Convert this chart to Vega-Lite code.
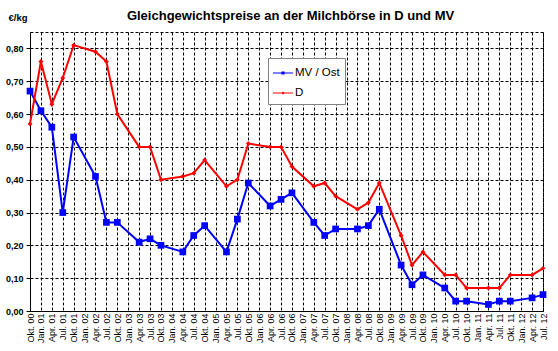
{
  "$schema": "https://vega.github.io/schema/vega-lite/v6.json",
  "width": 513,
  "height": 279,
  "autosize": {"type": "none"},
  "padding": {"left": 30, "top": 32, "right": 15, "bottom": 40},
  "background": "white",
  "title": {"text": "Gleichgewichtspreise an der Milchbörse in D und MV", "font": "Liberation Sans", "fontSize": 13, "fontWeight": "bold", "color": "black", "anchor": "middle", "offset": -21, "baseline": "alphabetic", "dx": 4},
  "config": {"view": {"stroke": "black", "strokeDash": [3, 2]}, "font": "Liberation Sans"},
  "data": {"values": [
    {"s": "MV / Ost", "i": 0, "q": "Okt. 00", "v": 0.67},
    {"s": "MV / Ost", "i": 1, "q": "Jan. 01", "v": 0.61},
    {"s": "MV / Ost", "i": 2, "q": "Apr. 01", "v": 0.56},
    {"s": "MV / Ost", "i": 3, "q": "Jul. 01", "v": 0.30},
    {"s": "MV / Ost", "i": 4, "q": "Okt. 01", "v": 0.53},
    {"s": "MV / Ost", "i": 6, "q": "Apr. 02", "v": 0.41},
    {"s": "MV / Ost", "i": 7, "q": "Jul. 02", "v": 0.27},
    {"s": "MV / Ost", "i": 8, "q": "Okt. 02", "v": 0.27},
    {"s": "MV / Ost", "i": 10, "q": "Apr. 03", "v": 0.21},
    {"s": "MV / Ost", "i": 11, "q": "Jul. 03", "v": 0.22},
    {"s": "MV / Ost", "i": 12, "q": "Okt. 03", "v": 0.20},
    {"s": "MV / Ost", "i": 14, "q": "Apr. 04", "v": 0.18},
    {"s": "MV / Ost", "i": 15, "q": "Jul. 04", "v": 0.23},
    {"s": "MV / Ost", "i": 16, "q": "Okt. 04", "v": 0.26},
    {"s": "MV / Ost", "i": 18, "q": "Apr. 05", "v": 0.18},
    {"s": "MV / Ost", "i": 19, "q": "Jul. 05", "v": 0.28},
    {"s": "MV / Ost", "i": 20, "q": "Okt. 05", "v": 0.39},
    {"s": "MV / Ost", "i": 22, "q": "Apr. 06", "v": 0.32},
    {"s": "MV / Ost", "i": 23, "q": "Jul. 06", "v": 0.34},
    {"s": "MV / Ost", "i": 24, "q": "Okt. 06", "v": 0.36},
    {"s": "MV / Ost", "i": 26, "q": "Apr. 07", "v": 0.27},
    {"s": "MV / Ost", "i": 27, "q": "Jul. 07", "v": 0.23},
    {"s": "MV / Ost", "i": 28, "q": "Okt. 07", "v": 0.25},
    {"s": "MV / Ost", "i": 30, "q": "Apr. 08", "v": 0.25},
    {"s": "MV / Ost", "i": 31, "q": "Jul. 08", "v": 0.26},
    {"s": "MV / Ost", "i": 32, "q": "Okt. 08", "v": 0.31},
    {"s": "MV / Ost", "i": 34, "q": "Apr. 09", "v": 0.14},
    {"s": "MV / Ost", "i": 35, "q": "Jul. 09", "v": 0.08},
    {"s": "MV / Ost", "i": 36, "q": "Okt. 09", "v": 0.11},
    {"s": "MV / Ost", "i": 38, "q": "Apr. 10", "v": 0.07},
    {"s": "MV / Ost", "i": 39, "q": "Jul. 10", "v": 0.03},
    {"s": "MV / Ost", "i": 40, "q": "Okt. 10", "v": 0.03},
    {"s": "MV / Ost", "i": 42, "q": "Apr. 11", "v": 0.02},
    {"s": "MV / Ost", "i": 43, "q": "Jul. 11", "v": 0.03},
    {"s": "MV / Ost", "i": 44, "q": "Okt. 11", "v": 0.03},
    {"s": "MV / Ost", "i": 46, "q": "Apr. 12", "v": 0.04},
    {"s": "MV / Ost", "i": 47, "q": "Jul. 12", "v": 0.05},
    {"s": "D", "i": 0, "q": "Okt. 00", "v": 0.57},
    {"s": "D", "i": 1, "q": "Jan. 01", "v": 0.76},
    {"s": "D", "i": 2, "q": "Apr. 01", "v": 0.63},
    {"s": "D", "i": 3, "q": "Jul. 01", "v": 0.71},
    {"s": "D", "i": 4, "q": "Okt. 01", "v": 0.81},
    {"s": "D", "i": 6, "q": "Apr. 02", "v": 0.79},
    {"s": "D", "i": 7, "q": "Jul. 02", "v": 0.76},
    {"s": "D", "i": 8, "q": "Okt. 02", "v": 0.60},
    {"s": "D", "i": 10, "q": "Apr. 03", "v": 0.50},
    {"s": "D", "i": 11, "q": "Jul. 03", "v": 0.50},
    {"s": "D", "i": 12, "q": "Okt. 03", "v": 0.40},
    {"s": "D", "i": 14, "q": "Apr. 04", "v": 0.41},
    {"s": "D", "i": 15, "q": "Jul. 04", "v": 0.42},
    {"s": "D", "i": 16, "q": "Okt. 04", "v": 0.46},
    {"s": "D", "i": 18, "q": "Apr. 05", "v": 0.38},
    {"s": "D", "i": 19, "q": "Jul. 05", "v": 0.40},
    {"s": "D", "i": 20, "q": "Okt. 05", "v": 0.51},
    {"s": "D", "i": 22, "q": "Apr. 06", "v": 0.50},
    {"s": "D", "i": 23, "q": "Jul. 06", "v": 0.50},
    {"s": "D", "i": 24, "q": "Okt. 06", "v": 0.44},
    {"s": "D", "i": 26, "q": "Apr. 07", "v": 0.38},
    {"s": "D", "i": 27, "q": "Jul. 07", "v": 0.39},
    {"s": "D", "i": 28, "q": "Okt. 07", "v": 0.35},
    {"s": "D", "i": 30, "q": "Apr. 08", "v": 0.31},
    {"s": "D", "i": 31, "q": "Jul. 08", "v": 0.33},
    {"s": "D", "i": 32, "q": "Okt. 08", "v": 0.39},
    {"s": "D", "i": 34, "q": "Apr. 09", "v": 0.23},
    {"s": "D", "i": 35, "q": "Jul. 09", "v": 0.14},
    {"s": "D", "i": 36, "q": "Okt. 09", "v": 0.18},
    {"s": "D", "i": 38, "q": "Apr. 10", "v": 0.11},
    {"s": "D", "i": 39, "q": "Jul. 10", "v": 0.11},
    {"s": "D", "i": 40, "q": "Okt. 10", "v": 0.07},
    {"s": "D", "i": 42, "q": "Apr. 11", "v": 0.07},
    {"s": "D", "i": 43, "q": "Jul. 11", "v": 0.07},
    {"s": "D", "i": 44, "q": "Okt. 11", "v": 0.11},
    {"s": "D", "i": 46, "q": "Apr. 12", "v": 0.11},
    {"s": "D", "i": 47, "q": "Jul. 12", "v": 0.13}
  ]},
  "encoding": {
    "x": {
      "field": "q", "type": "ordinal",
      "scale": {"type": "point", "padding": 0, "domain": ["Okt. 00","Jan. 01","Apr. 01","Jul. 01","Okt. 01","Jan. 02","Apr. 02","Jul. 02","Okt. 02","Jan. 03","Apr. 03","Jul. 03","Okt. 03","Jan. 04","Apr. 04","Jul. 04","Okt. 04","Jan. 05","Apr. 05","Jul. 05","Okt. 05","Jan. 06","Apr. 06","Jul. 06","Okt. 06","Jan. 07","Apr. 07","Jul. 07","Okt. 07","Jan. 08","Apr. 08","Jul. 08","Okt. 08","Jan. 09","Apr. 09","Jul. 09","Okt. 09","Jan. 10","Apr. 10","Jul. 10","Okt. 10","Jan. 11","Apr. 11","Jul. 11","Okt. 11","Jan. 12","Apr. 12","Jul. 12"]},
      "axis": {"title": null, "grid": true, "labelAngle": -90, "labelAlign": "right", "labelBaseline": "middle", "labelFont": "Liberation Sans", "labelFontSize": 9, "labelColor": "black", "ticks": false, "labelPadding": 2, "domainColor": "black", "gridColor": "black", "gridDash": [3, 2], "gridOpacity": 1, "labelOverlap": false}
    },
    "y": {
      "field": "v", "type": "quantitative",
      "scale": {"domain": [0, 0.85], "nice": false},
      "axis": {"values": [0, 0.1, 0.2, 0.3, 0.4, 0.5, 0.6, 0.7, 0.8], "labelExpr": "replace(format(datum.value, '.2f'), '.', ',')", "labelFont": "Liberation Sans", "labelFontWeight": "bold", "labelFontSize": 9, "labelColor": "black", "tickSize": 4, "tickColor": "black", "labelPadding": 3, "domainColor": "black", "gridColor": "black", "gridDash": [3, 2], "gridOpacity": 1, "title": "€/kg", "titleAngle": 0, "titleX": -22, "titleY": -12, "titleAlign": "left", "titleBaseline": "alphabetic", "titleFont": "Liberation Sans", "titleFontSize": 9.5, "titleFontWeight": "bold", "titleColor": "black"}
    },
    "color": {
      "field": "s", "type": "nominal",
      "scale": {"domain": ["MV / Ost", "D"], "range": ["#0000ff", "#ff0000"]},
      "legend": {"title": null, "orient": "none", "legendX": 238, "legendY": 26, "direction": "vertical", "fillColor": "white", "strokeColor": "#808080", "padding": 5, "labelFont": "Liberation Sans", "labelFontSize": 11.5, "labelColor": "black", "symbolSize": 400, "rowPadding": 4, "labelOffset": 2,
        "encode": {"symbols": {"update": {
          "shape": {"signal": "datum.value === 'D' ? 'M-1,-0.05H-0.12L0,-0.14L0.12,-0.05H1V0.05H0.12L0,0.14L-0.12,0.05H-1Z' : 'M-1,-0.05H-0.16V-0.16H0.16V-0.05H1V0.05H0.16V0.16H-0.16V0.05H-1Z'"},
          "fill": {"signal": "scale('color', datum.value)"},
          "stroke": {"value": "transparent"},
          "strokeWidth": {"value": 0},
          "opacity": {"value": 1}
        }}}
      }
    },
    "order": {"field": "i", "type": "quantitative"}
  },
  "layer": [
    {"mark": {"type": "line", "strokeWidth": 2}},
    {"transform": [{"filter": "datum.s === 'MV / Ost'"}], "mark": {"type": "point", "shape": "square", "filled": true, "opacity": 1, "size": 45}},
    {"transform": [{"filter": "datum.s === 'D'"}], "mark": {"type": "point", "shape": "diamond", "filled": true, "opacity": 1, "size": 24}}
  ]
}
